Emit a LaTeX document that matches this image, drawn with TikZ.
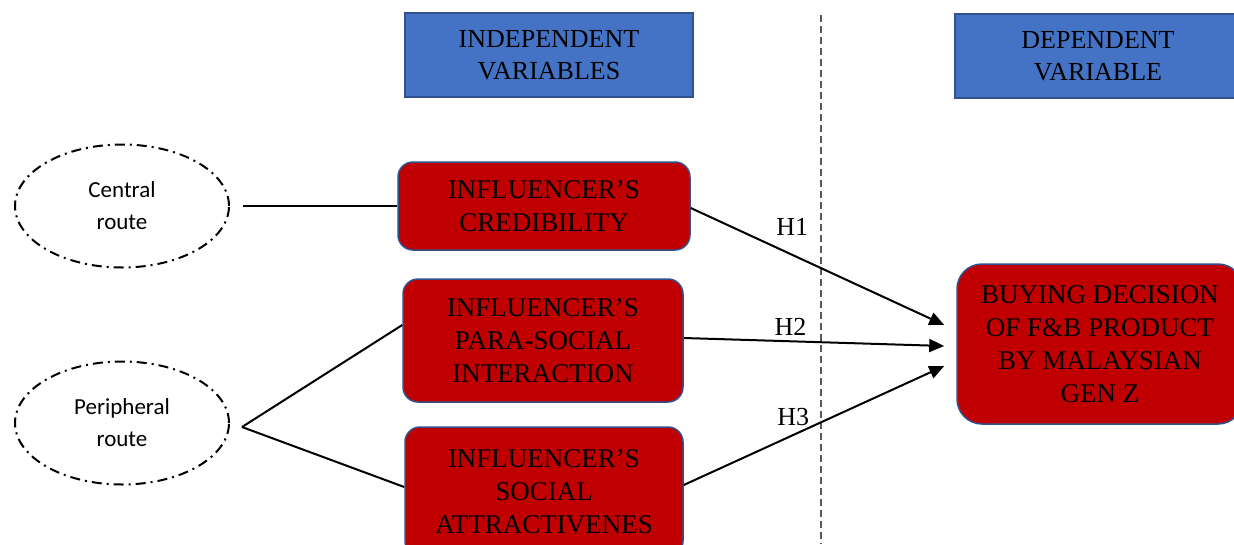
\documentclass[tikz,border=0pt]{standalone}
\usepackage{fontspec}
\setmainfont{Liberation Serif}
\newfontfamily\calibrifont{Carlito}
\usetikzlibrary{shapes.geometric,arrows.meta}
\definecolor{hdrblue}{HTML}{4472C4}
\definecolor{edgeblue}{HTML}{2F528F}
\definecolor{boxred}{HTML}{C00000}
\definecolor{sepgray}{HTML}{595959}
\tikzset{
  hdrbox/.style={draw=edgeblue, line width=1.5pt, fill=hdrblue, align=center,
    minimum width=288pt, minimum height=84pt, inner sep=0pt,
    font=\fontsize{26}{32}\selectfont},
  factor/.style={draw=edgeblue, line width=1.5pt, fill=boxred, rounded corners=15pt,
    align=center, inner sep=0pt, font=\fontsize{27}{33}\selectfont},
  route/.style={ellipse, draw, line width=2pt, dash pattern=on 10pt off 5pt on 2pt off 5pt,
    minimum width=214pt, minimum height=123pt, inner sep=0pt, align=center,
    font=\calibrifont\fontsize{23}{32}\selectfont},
  hlab/.style={font=\fontsize{26}{30}\selectfont, inner sep=2pt},
  link/.style={line width=2pt},
  hyp/.style={line width=2pt, -{Triangle[length=15pt,width=13pt]}}
}
\begin{document}
\begin{tikzpicture}[x=1pt,y=-1pt]
        \useasboundingbox (0,0) rectangle (1234,544);
        \clip (0,0) rectangle (1234,544);
        % headers
        \node[hdrbox] (iv) at (549,55) {INDEPENDENT\\VARIABLES};
        \node[hdrbox, minimum width=286pt] (dv) at (1098,56) {DEPENDENT\\VARIABLE};
        \draw[sepgray, line width=1.3pt, dash pattern=on 7pt off 4pt] (821,15) -- (821,544);
        % routes
        \node[route] (central) at (122,206) {Central\\route};
        \node[route] (peripheral) at (122,423) {Peripheral\\route};
        \coordinate (pj) at (242,427);
        % factors
        \node[factor, minimum width=292pt, minimum height=88pt] (cred) at (544,206) {INFLUENCER’S\\CREDIBILITY};
        \node[factor, minimum width=280pt, minimum height=123pt] (para) at (543,340.5) {INFLUENCER’S\\PARA-SOCIAL\\INTERACTION};
        \node[factor, minimum width=278pt, minimum height=129pt] (soc) at (544,491.5) {INFLUENCER’S\\SOCIAL\\ATTRACTIVENES};
        \node[factor, rounded corners=25pt, minimum width=286pt, minimum height=160pt] (buy) at (1100,344) {BUYING DECISION\\OF F\&B PRODUCT\\BY MALAYSIAN\\GEN Z};
        % links
        \draw[link, shorten <=13pt] (central) -- (cred);
        \draw[link] (pj) -- ([yshift=15.5pt]para.west);
        \draw[link] (pj) -- ([yshift=4.5pt]soc.west);
        \draw[hyp] ([yshift=-2pt]cred.east) -- ([xshift=-12pt,yshift=19pt]buy.west) node[hlab, pos=.40, above=16pt] {H1};
        \draw[hyp] ([yshift=2.5pt]para.east) -- ([xshift=-12pt,yshift=-2pt]buy.west) node[hlab, pos=.41, above=3pt] {H2};
        \draw[hyp] ([yshift=6.5pt]soc.east) -- ([xshift=-12pt,yshift=-22pt]buy.west) node[hlab, pos=.42, above=6pt] {H3};
    \end{tikzpicture}
\end{document}
